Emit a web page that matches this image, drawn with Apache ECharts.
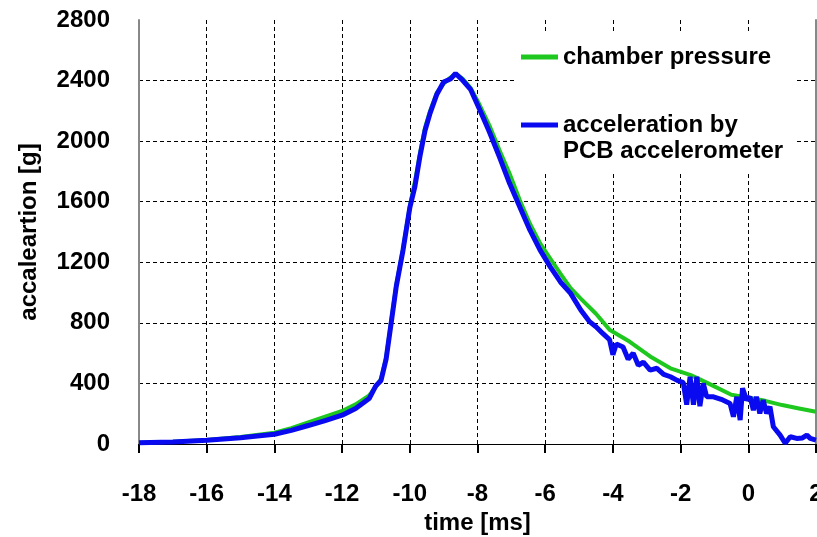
<!DOCTYPE html>
<html>
<head>
<meta charset="utf-8">
<script src="https://cdn.jsdelivr.net/npm/echarts@6/dist/echarts.min.js"></script>
<style>
  html, body { margin: 0; padding: 0; background: #fff; }
  #chart { width: 817px; height: 537px; }
</style>
</head>
<body>
<div id="chart"></div>
<script>
  // chamber pressure (green)
  const pressureTime = [-18, -17, -16, -15, -14, -13.5, -13, -12.5, -12, -11.6,
    -11.2, -11.0, -10.85, -10.7, -10.55, -10.4, -10.2, -10.0, -9.85, -9.7,
    -9.55, -9.4, -9.2, -9.0, -8.8, -8.65, -8.45, -8.2, -7.95, -7.65,
    -7.35, -7.05, -6.75, -6.45, -6.15, -5.85, -5.55, -5.25, -4.95, -4.5,
    -4.1, -3.5, -2.9, -2.3, -1.7, -1.2, -0.5, 0, 0.5, 1.0,
    1.5, 2.0]
  const pressureValues = [9, 15, 27, 46, 74, 104, 142, 180, 218, 262,
    320, 380, 430, 570, 810, 1050, 1290, 1570, 1730, 1920,
    2090, 2200, 2320, 2380, 2420, 2445, 2415, 2350, 2245, 2105,
    1940, 1785, 1610, 1455, 1325, 1225, 1125, 1030, 960, 860,
    755, 675, 578, 500, 455, 402, 325, 305, 285, 257,
    235, 213]

  // acceleration by PCB accelerometer (blue)
  const accelTime = [-18, -17, -16, -15, -14, -13.5, -13, -12.5, -12, -11.6,
    -11.2, -11.0, -10.85, -10.7, -10.55, -10.4, -10.2, -10.0, -9.85, -9.7,
    -9.55, -9.4, -9.2, -9.0, -8.8, -8.65, -8.45, -8.2, -7.95, -7.65,
    -7.35, -7.05, -6.75, -6.45, -6.15, -5.85, -5.55, -5.25, -4.95, -4.7,
    -4.5, -4.3, -4.1, -4.0, -3.9, -3.7, -3.55, -3.4, -3.25, -3.1,
    -2.9, -2.7, -2.5, -2.3, -2.1, -1.92, -1.82, -1.72, -1.62, -1.52,
    -1.43, -1.33, -1.23, -1.03, -0.8, -0.54, -0.44, -0.34, -0.24, -0.17,
    -0.05, 0.05, 0.15, 0.24, 0.34, 0.44, 0.54, 0.64, 0.74, 0.94,
    1.09, 1.24, 1.43, 1.6, 1.73, 1.83, 2.0]
  const accelValues = [8, 14, 25, 42, 64, 90, 122, 155, 190, 235,
    300, 385, 420, 560, 800, 1040, 1280, 1560, 1700, 1900,
    2070, 2185, 2310, 2390, 2410, 2447, 2405, 2340, 2215, 2062,
    1895, 1720, 1565, 1412, 1280, 1170, 1070, 995, 885, 810,
    774, 730, 690, 590, 660, 640, 560, 600, 520, 540,
    488, 500, 460, 444, 420, 405, 260, 444, 260, 444,
    250, 400, 312, 312, 295, 268, 180, 312, 158, 368,
    290, 312, 224, 312, 202, 290, 202, 246, 114, 59,
    5, 48, 37, 40, 59, 37, 26]

  const seriesNames = ['chamber pressure', 'acceleration by\nPCB accelerometer']

  const pair = (xs, ys) => xs.map((x, i) => [x, ys[i]])

  const font = 'Liberation Sans, Arial, sans-serif'
  const labelStyle = { fontFamily: font, fontWeight: 'bold', fontSize: 24, color: '#000' }
  const chart = echarts.init(document.getElementById('chart'))
  chart.setOption({
    animation: false,
    grid: {
      left: 139,
      right: 1,
      top: 20,
      bottom: 93,
      outerBoundsMode: 'none'
    },
    legend: {
      orient: 'vertical',
      left: 517,
      top: 32,
      padding: [12, 11, 8, 4],
      itemGap: 16,
      itemWidth: 37,
      itemHeight: 5,
      icon: 'rect',
      backgroundColor: '#fff',
      data: seriesNames,
      // blank first line keeps the icon level with the first text line
      formatter: name => name.indexOf('\n') >= 0 ? ' \n' + name : name,
      textStyle: {
        fontFamily: font,
        fontWeight: 'bold',
        fontSize: 24,
        lineHeight: 26,
        color: '#000'
      }
    },
    xAxis: {
      type: 'value',
      min: -18,
      max: 2,
      interval: 2,
      name: 'time [ms]',
      nameLocation: 'middle',
      nameGap: 66,
      nameTextStyle: labelStyle,
      axisLine: { onZero: false, lineStyle: { color: '#000', width: 1 } },
      axisTick: { show: true, length: 9, lineStyle: { color: '#000', width: 2 } },
      axisLabel: Object.assign({ margin: 38 }, labelStyle),
      splitLine: {
        show: true,
        showMaxLine: false,
        lineStyle: { color: '#000', type: [4, 3], width: 1 }
      }
    },
    yAxis: [
      {
        type: 'value',
        min: 0,
        max: 2800,
        interval: 400,
        name: 'accaleartion [g]',
        nameLocation: 'middle',
        nameGap: 98,
        nameTextStyle: labelStyle,
        axisLine: { show: true, onZero: false, lineStyle: { color: '#888', width: 2 } },
        axisTick: { show: false },
        axisLabel: Object.assign({ margin: 29, formatter: v => String(v) }, labelStyle),
        splitLine: {
          show: true,
          showMaxLine: false,
          showMinLine: false,
          lineStyle: { color: '#000', type: [4, 3], width: 1 }
        }
      },
      {
        type: 'value',
        position: 'right',
        min: 0,
        max: 2800,
        interval: 400,
        axisLine: { show: true, onZero: false, lineStyle: { color: '#888', width: 2 } },
        axisTick: { show: false },
        axisLabel: { show: false },
        splitLine: { show: false }
      }
    ],
    series: [
      {
        name: seriesNames[0],
        type: 'line',
        showSymbol: false,
        symbol: 'none',
        data: pair(pressureTime, pressureValues),
        lineStyle: { color: '#1ec81e', width: 4 },
        itemStyle: { color: '#1ec81e' }
      },
      {
        name: seriesNames[1],
        type: 'line',
        showSymbol: false,
        symbol: 'none',
        data: pair(accelTime, accelValues),
        lineStyle: { color: '#0a0af0', width: 5 },
        itemStyle: { color: '#0a0af0' }
      }
    ]
  })
</script>
</body>
</html>
